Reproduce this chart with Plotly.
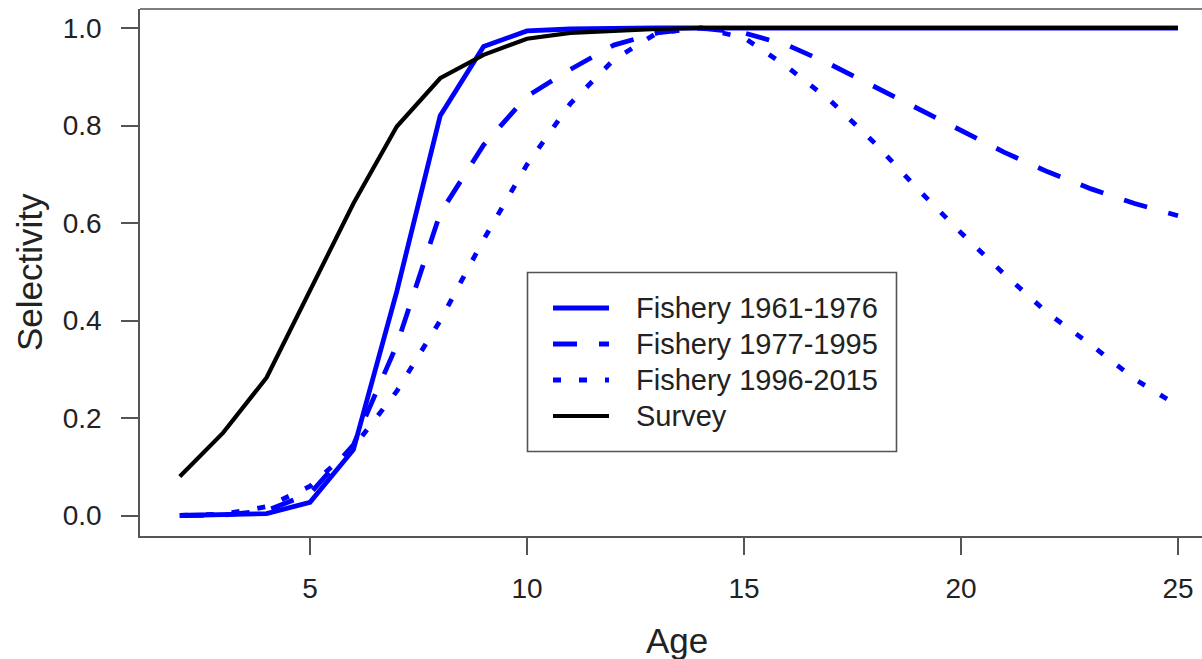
import plotly.graph_objects as go

# Age classes
ages = list(range(2, 26))

# Selectivity-at-age by period
fishery_1961_1976 = [0.000, 0.001, 0.004, 0.027, 0.135, 0.46, 0.82, 0.962, 0.994, 0.998,
                     1.0, 1.0, 1.0, 1.0, 1.0, 1.0, 1.0, 1.0, 1.0, 1.0, 1.0, 1.0, 1.0, 1.0]
fishery_1977_1995 = [0.000, 0.001, 0.010, 0.045, 0.145, 0.35, 0.62, 0.76, 0.86, 0.915,
                     0.965, 0.99, 1.0, 0.99, 0.965, 0.925, 0.88, 0.835, 0.79, 0.745,
                     0.705, 0.67, 0.64, 0.615]
fishery_1996_2015 = [0.000, 0.003, 0.018, 0.060, 0.140, 0.255, 0.40, 0.566, 0.72, 0.845,
                     0.935, 0.99, 1.0, 0.98, 0.92, 0.85, 0.765, 0.67, 0.58, 0.495,
                     0.415, 0.35, 0.28, 0.225]
survey = [0.08, 0.17, 0.283, 0.46, 0.64, 0.798, 0.897, 0.945, 0.978, 0.99,
          0.995, 0.998, 1.0, 1.0, 1.0, 1.0, 1.0, 1.0, 1.0, 1.0, 1.0, 1.0, 1.0, 1.0]

x_ticks = [5, 10, 15, 20, 25]
y_ticks = [0.0, 0.2, 0.4, 0.6, 0.8, 1.0]
y_tick_text = ["0.0", "0.2", "0.4", "0.6", "0.8", "1.0"]

series = [
    ("Fishery 1961-1976", fishery_1961_1976, "#0000ff", "solid", 4.8),
    ("Fishery 1977-1995", fishery_1977_1995, "#0000ff", "24px,22px", 4.8),
    ("Fishery 1996-2015", fishery_1996_2015, "#0000ff", "8px,18px", 4.8),
    ("Survey", survey, "#000000", "solid", 4.2),
]

FONT = "Liberation Sans, Arial, sans-serif"
TXT = "#222222"
FRAME = "#555555"

W, H = 1202, 659
L, R, T, B = 140, 0, 9, 123
PW, PH = W - L - R, H - T - B

fig = go.Figure()
for name, vals, color, dash, width in series:
    fig.add_trace(go.Scatter(
        x=ages, y=vals, mode="lines", name=name,
        line=dict(color=color, dash=dash, width=width),
        showlegend=False,
    ))


def px_x(p):
    return (p - L) / PW


def px_y(p):
    return (H - B - p) / PH


shapes = [
    # top edge of the box
    dict(type="line", xref="paper", yref="paper", x0=0, x1=1, y0=1, y1=1,
         line=dict(color=FRAME, width=1.6)),
    # legend frame
    dict(type="rect", xref="paper", yref="paper",
         x0=px_x(527.5), x1=px_x(896.5), y0=px_y(451.5), y1=px_y(272.5),
         fillcolor="white", line=dict(color=FRAME, width=1.6), layer="above"),
]

annotations = [
    dict(text="Age", xref="paper", yref="paper", x=px_x(677), y=px_y(640),
         showarrow=False, font=dict(family=FONT, size=35, color=TXT),
         xanchor="center", yanchor="middle"),
    dict(text="Selectivity", xref="paper", yref="paper", x=px_x(29), y=px_y(272),
         showarrow=False, textangle=-90, font=dict(family=FONT, size=35, color=TXT),
         xanchor="center", yanchor="middle"),
]

# Legend rows
row_y = [308, 344, 380, 416]
for (name, vals, color, dash, width), ry in zip(series, row_y):
    shapes.append(dict(type="line", xref="paper", yref="paper",
                       x0=px_x(553), x1=px_x(609), y0=px_y(ry), y1=px_y(ry),
                       line=dict(color=color, width=width, dash=dash), layer="above"))
    annotations.append(dict(text=name, xref="paper", yref="paper",
                            x=px_x(634), y=px_y(ry), showarrow=False,
                            xanchor="left", yanchor="middle",
                            font=dict(family=FONT, size=29, color=TXT)))

fig.update_layout(
    width=W, height=H,
    margin=dict(l=L, r=R, t=T, b=B, pad=0),
    paper_bgcolor="white", plot_bgcolor="white",
    font=dict(family=FONT, color=TXT),
    shapes=shapes, annotations=annotations,
    xaxis=dict(range=[1.083, 25.553], tickvals=x_ticks, ticks="outside",
               ticklen=17, tickwidth=1.6, tickcolor=FRAME, showgrid=False,
               zeroline=False, showline=True, linecolor=FRAME, linewidth=1.6,
               tickfont=dict(family=FONT, size=28, color=TXT),
               ticklabelstandoff=10),
    yaxis=dict(range=[-0.042, 1.039], tickvals=y_ticks, ticktext=y_tick_text,
               ticks="outside", ticklen=17, tickwidth=1.6, tickcolor=FRAME,
               showgrid=False, zeroline=False, showline=True, linecolor=FRAME,
               linewidth=1.6, tickfont=dict(family=FONT, size=28, color=TXT),
               ticklabelstandoff=14),
)

fig.write_html("out.html")
